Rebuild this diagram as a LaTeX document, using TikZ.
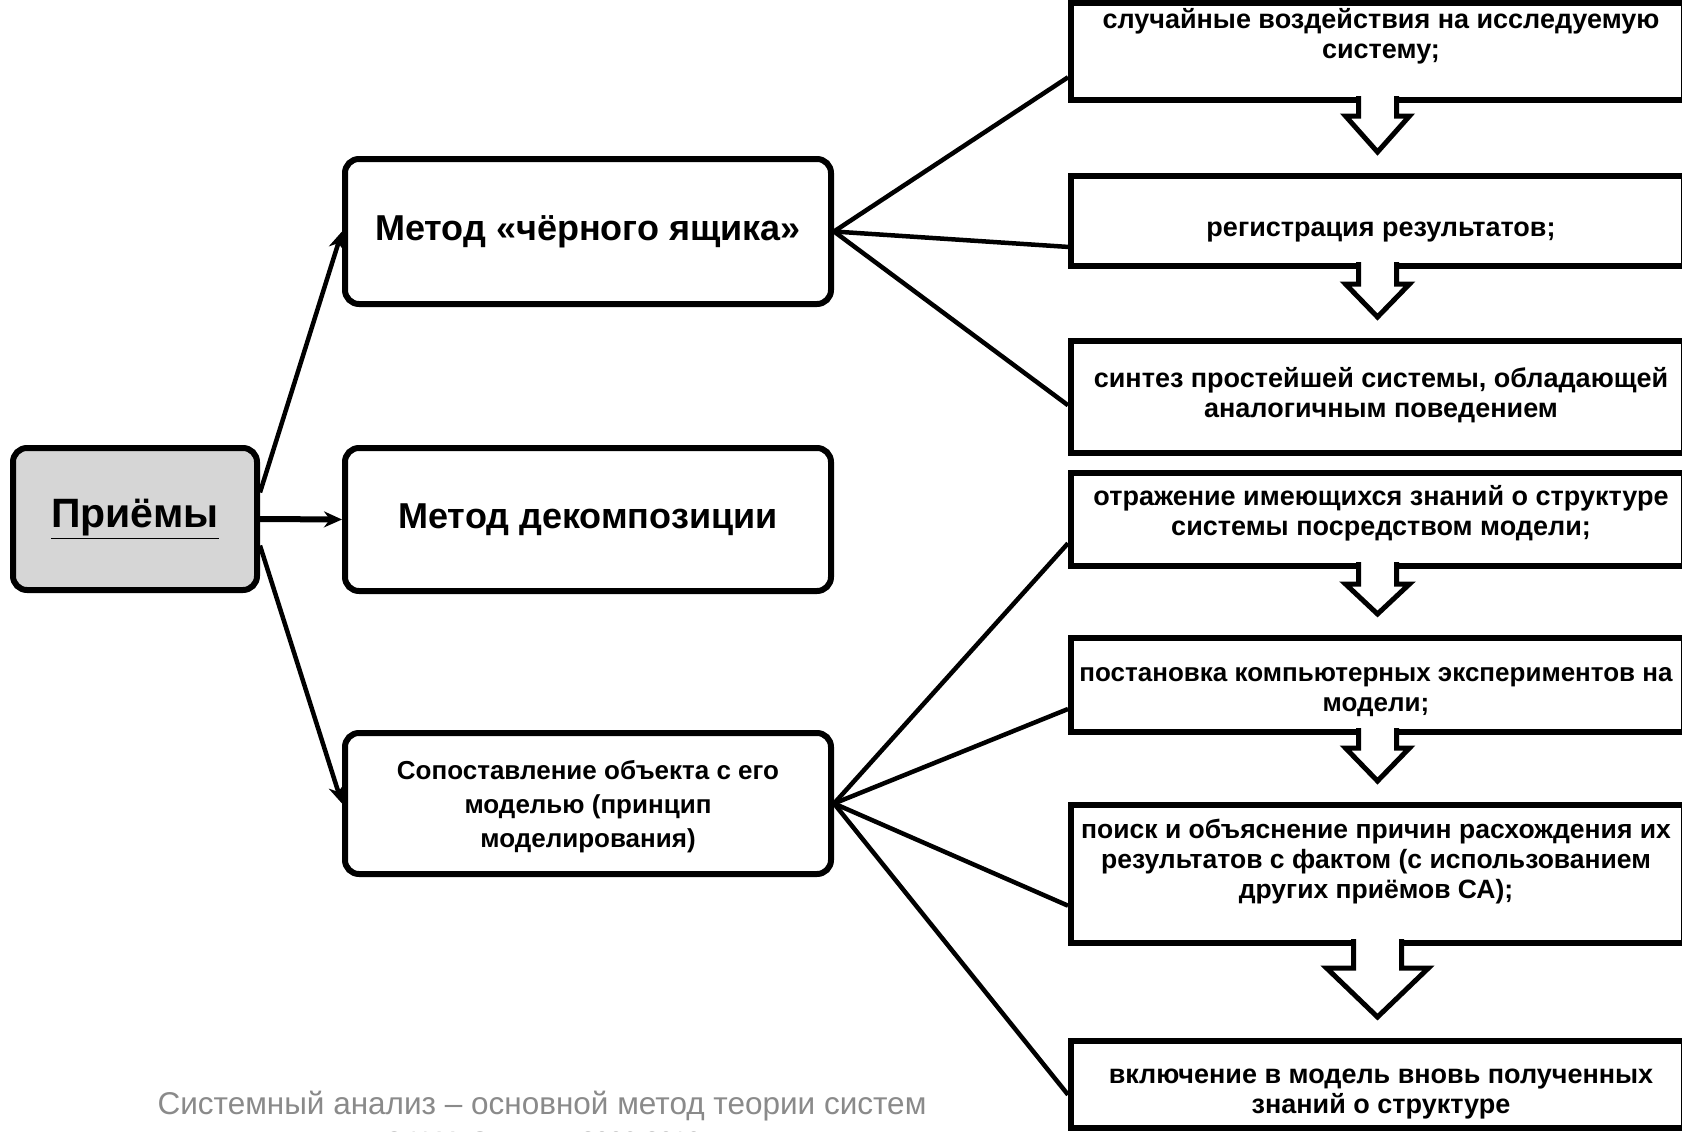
\documentclass[tikz,border=0pt]{standalone}
\usepackage{fontspec}
\setmainfont{Liberation Sans}
\usetikzlibrary{arrows.meta,calc}
\definecolor{boxgray}{HTML}{D6D6D6}
\definecolor{footgray}{HTML}{8A8A8A}
\tikzset{
  rbox/.style={draw=black, line width=6pt, rounded corners=14pt, fill=white, inner sep=0pt},
  sbox/.style={draw=black, line width=6pt, fill=white, inner sep=0pt, minimum width=613pt},
  mtext/.style={font=\bfseries\fontsize{36}{40}\selectfont, align=center, inner sep=0pt},
  stext/.style={font=\bfseries\fontsize{27}{30}\selectfont, align=center, inner sep=0pt},
  conn/.style={line width=4.5pt},
  arr/.style={line width=4.5pt, -{Stealth[length=18pt,width=16pt]}},
  foot/.style={font=\fontsize{31.5}{34}\selectfont, text=footgray, inner sep=0pt}
}
% block arrow from bottom of #1 down towards #2; #3 stem half width, #4 head half width, #5 stem length
\newcommand{\blockarr}[5]{%
  \path[draw=black, fill=white, line width=5pt, line join=miter]
    let \p1=(#1.south), \p2=(#2.north) in
    (\x1-#3pt, \y1+7pt) -- (\x1-#3pt, \y1-#5pt) -- (\x1-#4pt, \y1-#5pt) --
    (\x1, \y2+21pt) -- (\x1+#4pt, \y1-#5pt) -- (\x1+#3pt, \y1-#5pt) -- (\x1+#3pt, \y1+7pt);
}
\begin{document}
\begin{tikzpicture}[x=1pt,y=-1pt]
\useasboundingbox (0,0) rectangle (1682,1132);
\fill[white] (0,0) rectangle (1682,1132);

% left column
\node[rbox, fill=boxgray, minimum width=244pt, minimum height=142pt] (pr) at (135,519) {};
\node[font=\bfseries\fontsize{41}{45}\selectfont, inner sep=0pt] (prt) at (135,519) {\underline{Приёмы}};

\node[rbox, minimum width=486pt, minimum height=145pt] (bb) at (588,231.5) {};
\node[mtext] (bbt) at (588,231.5) {Метод «чёрного ящика»};

\node[rbox, minimum width=486pt, minimum height=143pt] (dc) at (588,519.5) {};
\node[mtext] (dct) at (588,519.5) {Метод декомпозиции};

\node[rbox, minimum width=486pt, minimum height=141pt] (sp) at (588,803.5) {};
\node[font=\bfseries\fontsize{26}{34}\selectfont, align=center, inner sep=0pt] (spt) at (588,807)
  {Сопоставление объекта с его\\моделью (принцип\\моделирования)};

% right column boxes
\node[sbox, minimum height=97pt] (b1) at (1377.5,51.5) {};
\node[sbox, minimum height=90pt] (b2) at (1377.5,221) {};
\node[sbox, minimum height=112pt] (b3) at (1377.5,397) {};
\node[sbox, minimum height=93pt] (b4) at (1377.5,519.5) {};
\node[sbox, minimum height=94pt] (b5) at (1377.5,685) {};
\node[sbox, minimum height=138pt] (b6) at (1377.5,874) {};
\node[sbox, minimum height=87pt] (b7) at (1377.5,1084.5) {};

\node[stext] (t1) at (1381,36) {случайные воздействия на исследуемую\\систему;};
\node[stext] (t2) at (1381,232) {регистрация результатов;};
\node[stext] (t3) at (1381,395) {синтез простейшей системы, обладающей\\аналогичным поведением};
\node[stext] (t4) at (1381,513) {отражение имеющихся знаний о структуре\\системы посредством модели;};
\node[stext, font=\bfseries\fontsize{26}{30}\selectfont] (t5) at (1376,692) {постановка компьютерных экспериментов на\\модели;};
\node[stext, font=\bfseries\fontsize{26.5}{30}\selectfont] (t6) at (1376,862) {поиск и объяснение причин расхождения их\\результатов с фактом (с использованием\\других приёмов СА);};
\node[stext] (t7) at (1381,1094) {включение в модель вновь полученных\\знаний о структуре};

% block arrows
\blockarr{b1}{b2}{19}{32}{13}
\blockarr{b2}{b3}{19}{32}{15}
\blockarr{b4}{b5}{19}{32}{15}
\blockarr{b5}{b6}{19}{32}{13}
\blockarr{b6}{b7}{24}{51}{22}

% connectors from Приёмы
\draw[arr] (pr.12) -- (bb.west);
\draw[arr, line width=6pt] (pr.east) -- (dc.west);
\draw[arr] (pr.-12) -- (sp.west);

% connectors from black box method
\draw[conn] (bb.east) -- ($(b1.south west)!0.25!(b1.north west)$);
\draw[conn] (bb.east) -- ($(b2.south west)!0.23!(b2.north west)$);
\draw[conn] (bb.east) -- ($(b3.south west)!0.43!(b3.north west)$);

% connectors from modelling
\draw[conn] (sp.east) -- ($(b4.south west)!0.26!(b4.north west)$);
\draw[conn] (sp.east) -- ($(b5.south west)!0.26!(b5.north west)$);
\draw[conn] (sp.east) -- ($(b6.south west)!0.28!(b6.north west)$);
\draw[conn] (sp.east) -- ($(b7.south west)!0.39!(b7.north west)$);

% footer
\node[foot] (f1) at (542,1106) {Системный анализ – основной метод теории систем};
\node[foot, font=\fontsize{25}{28}\selectfont] (f2) at (543,1142) {© Н.М. Светлов, 2006-2010};
\end{tikzpicture}
\end{document}
